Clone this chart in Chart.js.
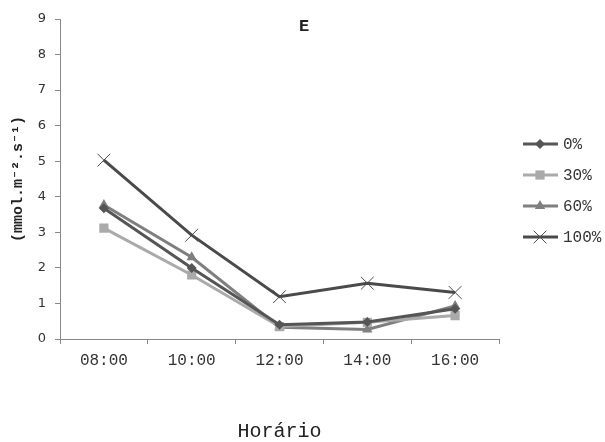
<!DOCTYPE html>
<html>
<head>
<meta charset="utf-8">
<script src="https://cdn.jsdelivr.net/npm/chart.js@4/dist/chart.umd.min.js"></script>
<style>
  html, body { margin: 0; padding: 0; background: #fff; }
  #wrap { width: 605px; height: 442px; }
</style>
</head>
<body>
<div id="wrap"><canvas id="myChart" width="605" height="442"></canvas></div>
<script>
var horarios = ['08:00', '10:00', '12:00', '14:00', '16:00'];
var seriesNames = ['0%', '30%', '60%', '100%'];
var e0 = [3.68, 2.00, 0.40, 0.48, 0.85];
var e30 = [3.12, 1.80, 0.35, 0.47, 0.66];
var e60 = [3.77, 2.30, 0.33, 0.27, 0.93];
var e100 = [5.03, 2.92, 1.19, 1.57, 1.31];
var yTicks = [0, 1, 2, 3, 4, 5, 6, 7, 8, 9];

var mono = "'Liberation Mono', 'Courier New', monospace";
var sans = "'DejaVu Sans', Verdana, sans-serif";

var styles = [
    { color: '#555555', point: 'rectRot', radius: 5, bw: 0 },
    { color: '#aaaaaa', point: 'rect', radius: 6.5, bw: 0 },
    { color: '#7f7f7f', point: 'triangle', radius: 6, bw: 0 },
    { color: '#4a4a4a', point: 'crossRot', radius: 9, bw: 1 }
];
var values = [e0, e30, e60, e100];

var mb_datasets = values.map(function (v, i) {
    var s = styles[i];
    return {
        label: seriesNames[i],
        data: v,
        borderColor: s.color,
        backgroundColor: s.color,
        pointBackgroundColor: s.color,
        pointBorderColor: s.color,
        pointStyle: s.point,
        pointRadius: s.radius,
        pointBorderWidth: s.bw,
        borderWidth: 3,
        tension: 0,
        fill: false
    };
});

// legend + "E" drawn on the canvas
var extras = {
    id: 'extras',
    afterDraw: function (chart) {
        var ctx = chart.ctx;
        ctx.save();
        ctx.font = 'bold 17px ' + mono;
        ctx.fillStyle = '#222';
        ctx.textAlign = 'center';
        ctx.textBaseline = 'middle';
        ctx.fillText('E', 304, 27);

        var rows = [144, 175, 206, 237];
        ctx.font = '16px ' + mono;
        ctx.textAlign = 'left';
        for (var i = 0; i < seriesNames.length; i++) {
            var s = styles[i];
            var y = rows[i];
            ctx.strokeStyle = s.color;
            ctx.lineWidth = 3;
            ctx.beginPath();
            ctx.moveTo(523, y);
            ctx.lineTo(558, y);
            ctx.stroke();
            ctx.fillStyle = s.color;
            ctx.lineWidth = s.bw;
            if (Chart.helpers && Chart.helpers.drawPoint) {
                Chart.helpers.drawPoint(ctx, { pointStyle: s.point, radius: s.radius, borderWidth: s.bw, rotation: 0 }, 540, y);
            }
            ctx.fillStyle = '#333';
            ctx.fillText(seriesNames[i], 563, y + 1);
        }
        ctx.restore();
    }
};

new Chart('myChart', {
    type: 'line',
    data: {
        labels: horarios,
        datasets: mb_datasets
    },
    options: {
        responsive: false,
        animation: false,
        layout: { padding: { left: 0, top: 19, right: 106, bottom: 0 } },
        plugins: {
            legend: { display: false },
            tooltip: { enabled: false },
            title: { display: false }
        },
        scales: {
            x: {
                offset: true,
                grid: {
                    offset: true,
                    drawOnChartArea: false,
                    drawTicks: true,
                    tickLength: 5,
                    color: '#888'
                },
                border: { color: '#888', width: 1 },
                ticks: {
                    color: '#333',
                    font: { family: mono, size: 16 },
                    padding: 7,
                    maxRotation: 0
                },
                title: {
                    display: true,
                    text: 'Horário',
                    color: '#222',
                    font: { family: mono, size: 20, lineHeight: 1 },
                    padding: { top: 0, bottom: 0 }
                },
                afterFit: function (scale) { scale.height = 103; }
            },
            y: {
                min: 0,
                max: 9,
                afterBuildTicks: function (scale) {
                    scale.ticks = yTicks.map(function (t) { return { value: t }; });
                },
                grid: {
                    drawOnChartArea: false,
                    drawTicks: true,
                    tickLength: 5,
                    color: '#888'
                },
                border: { color: '#888', width: 1 },
                ticks: {
                    color: '#333',
                    font: { family: sans, size: 13 },
                    padding: 9
                },
                title: {
                    display: true,
                    text: '(mmol.m⁻².s⁻¹)',
                    color: '#222',
                    font: { family: mono, size: 15, weight: 'bold' },
                    padding: { top: 9, bottom: 0 }
                },
                afterFit: function (scale) { scale.width = 60; }
            }
        }
    },
    plugins: [extras]
});
</script>
</body>
</html>
